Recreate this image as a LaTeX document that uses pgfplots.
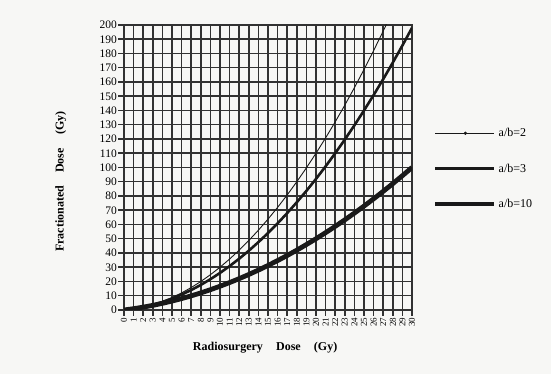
\documentclass[border=0pt]{standalone}
\usepackage{pgfplots}
\pgfplotsset{compat=1.18}
\usepackage{fontspec}
\setmainfont{Liberation Serif}
\definecolor{bg}{RGB}{247,247,245}
\definecolor{gridc}{RGB}{50,50,50}
\definecolor{curve}{RGB}{25,25,25}
\begin{document}
\begin{tikzpicture}[x=1pt,y=1pt]
\fill[bg] (0,0) rectangle (551,374);
\begin{axis}[
  at={(124pt,64pt)}, anchor=south west,
  scale only axis, width=288pt, height=285pt,
  xmin=0, xmax=30, ymin=0, ymax=200,
  xtick={0,1,...,30}, ytick={0,10,...,200},
  xtick pos=bottom, ytick pos=left,
  tick align=outside, major tick length=6pt,
  grid=major,
  major grid style={draw=gridc, line width=1.5pt},
  axis line style={draw=gridc, line width=1.6pt},
  tick style={draw=gridc, line width=1.5pt},
  xticklabel style={rotate=90, anchor=east, font=\fontsize{9}{9}\selectfont, inner sep=1.5pt},
  yticklabel style={font=\fontsize{11.5}{11.5}\selectfont, inner sep=1pt},
  /pgf/number format/assume math mode=true,
  xlabel={\bfseries Radiosurgery\hspace{1.1em}Dose\hspace{1.1em}(Gy)},
  ylabel={\bfseries Fractionated\hspace{1.1em}Dose\hspace{1.1em}(Gy)},
  label style={font=\fontsize{12}{12}\selectfont},
  xlabel style={at={(axis description cs:0.49,-0.133)}, anchor=center},
  ylabel style={at={(axis description cs:-0.22,0.45)}, anchor=center, rotate=0},
  legend style={at={(1.072,0.645)}, anchor=north west, draw=none, fill=none,
    font=\fontsize{12}{12}\selectfont, row sep=21.5pt, inner sep=0pt,
    /tikz/every even column/.append style={column sep=17pt}},
  legend cell align=left,
  legend image code/.code={\draw[#1] (0pt,0pt) -- (59pt,0pt);},
  clip=true,
]
\addplot[curve, line width=0.9pt, forget plot] coordinates {
(0,0) (1,0.75) (2,2) (3,3.75) (4,6) (5,8.75) (6,12) (7,15.75) (8,20) (9,24.75)
(10,30) (11,35.75) (12,42) (13,48.75) (14,56) (15,63.75) (16,72) (17,80.75)
(18,90) (19,99.75) (20,110) (21,120.75) (22,132) (23,143.75) (24,156)
(25,168.75) (26,182) (27,195.75) (27.3,199.97) (27.5,206)
};
\addplot[curve, line width=2.6pt, forget plot] coordinates {
(0,0) (1,0.8) (2,2) (3,3.6) (4,5.6) (5,8) (6,10.8) (7,14) (8,17.6) (9,21.6)
(10,26) (11,30.8) (12,36) (13,41.6) (14,47.6) (15,54) (16,60.8) (17,68)
(18,75.6) (19,83.6) (20,92) (21,100.8) (22,110) (23,119.6) (24,129.6)
(25,140) (26,150.8) (27,162) (28,173.6) (29,185.6) (30,198)
};
\addplot[curve, line width=4.8pt, forget plot] coordinates {
(0,0) (1,0.92) (2,2) (3,3.25) (4,4.67) (5,6.25) (6,8) (7,9.92) (8,12) (9,14.25)
(10,16.67) (11,19.25) (12,22) (13,24.92) (14,28) (15,31.25) (16,34.67)
(17,38.25) (18,42) (19,45.92) (20,50) (21,54.25) (22,58.67) (23,63.25)
(24,68) (25,72.92) (26,78) (27,83.25) (28,88.67) (29,94.25) (30,100)
};
\addlegendimage{legend image code/.code={\draw[curve, line width=0.9pt] (0pt,0pt) -- (59pt,0pt); \fill[curve] (30pt,0pt) circle (1.5pt);}}
\addlegendentry{a/b=2}
\addlegendimage{curve, line width=2.8pt}
\addlegendentry{a/b=3}
\addlegendimage{curve, line width=4.8pt}
\addlegendentry{a/b=10}
\end{axis}
\end{tikzpicture}
\end{document}
